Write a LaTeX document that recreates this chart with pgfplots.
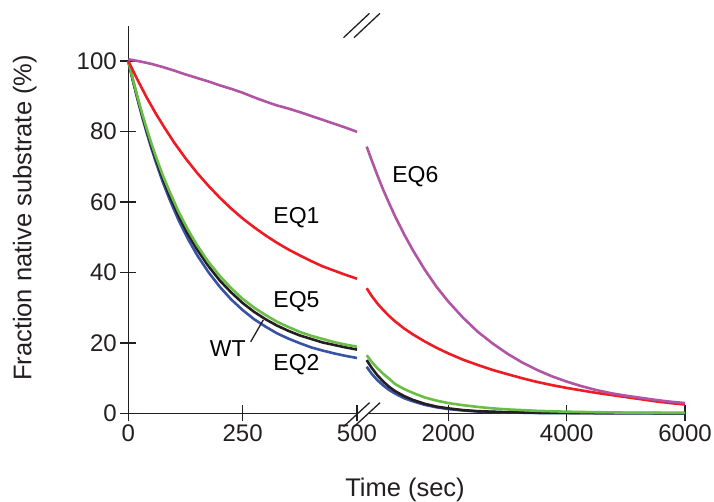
\documentclass[border=0pt]{standalone}
\usepackage{fontspec}
\setmainfont{Liberation Sans}
\usepackage{pgfplots}
\pgfplotsset{compat=1.18}
\definecolor{cEQsix}{RGB}{176,84,164}
\definecolor{cEQone}{RGB}{237,28,36}
\definecolor{cEQfive}{RGB}{106,189,69}
\definecolor{cEQtwo}{RGB}{57,83,164}
\definecolor{cWT}{RGB}{35,31,32}
\pgfplotsset{
  common/.style={
    scale only axis, anchor=south west, clip=false,
    height=387.5pt, ymin=0, ymax=110,
    axis line style={line width=1.5pt, cWT, -},
    every outer x axis line/.append style={-},
    every outer y axis line/.append style={-},
    x axis line style={-}, y axis line style={-},
    tick align=outside, major tick length=16pt,
    tick style={line width=1.5pt, cWT},
    every tick label/.append style={font=\fontsize{24}{24}\selectfont, text=cWT},
    /pgf/number format/assume math mode=true,
    /pgf/number format/1000 sep={},
  },
  dl/.style={line width=2.6pt, line join=round, no markers},
}
\begin{document}
\begin{tikzpicture}
\useasboundingbox (0pt,0pt) rectangle (714pt,502pt);
% ---------- left segment 0-500 s ----------
\begin{axis}[common, at={(128.3pt,88.7pt)}, width=228.7pt,
  xmin=0, xmax=500,
  axis x line=bottom, axis y line=left,
  x axis line style={-}, y axis line style={-},
  xtick={0,250,500}, ytick={0,20,40,60,80,100}]
\addplot[dl, cEQtwo] coordinates {(0,100) (10,94.4) (20,89.2) (30,84.3) (40,79.7) (50,75.4) (60,71.4) (75,65.8) (90,60.8) (110,54.8) (130,49.6) (150,45.0) (175,40.1) (200,35.9) (225,32.3) (250,29.3) (275,26.7) (300,24.6) (325,22.7) (350,21.2) (375,19.9) (400,18.7) (425,17.8) (450,17.0) (475,16.3) (500,15.7)};
\addplot[dl, cWT] coordinates {(0,100) (10,94.6) (20,89.5) (30,84.7) (40,80.3) (50,76.1) (60,72.2) (75,66.8) (90,61.9) (110,56.1) (130,51.0) (150,46.6) (175,41.8) (200,37.7) (225,34.3) (250,31.3) (275,28.8) (300,26.7) (325,24.9) (350,23.4) (375,22.1) (400,21.1) (425,20.1) (450,19.4) (475,18.7) (500,18.1)};
\addplot[dl, cEQfive] coordinates {(0,100) (10,94.8) (20,89.8) (30,85.2) (40,80.9) (50,76.8) (60,73.0) (75,67.7) (90,63.0) (110,57.2) (130,52.2) (150,47.8) (175,43.0) (200,39.0) (225,35.5) (250,32.5) (275,30.0) (300,27.9) (325,26.0) (350,24.5) (375,23.1) (400,22.0) (425,21.1) (450,20.2) (475,19.5) (500,18.9)};
\addplot[dl, cEQone] coordinates {(0,100) (20,94.7) (40,89.7) (60,85.1) (80,80.9) (100,76.9) (125,72.4) (150,68.3) (175,64.6) (200,61.2) (225,58.1) (250,55.3) (275,52.8) (300,50.5) (325,48.4) (350,46.5) (375,44.8) (400,43.2) (425,41.7) (450,40.5) (475,39.3) (500,38.2)};
\addplot[dl, cEQsix] coordinates {(0,100.5) (25,99.9) (50,99.2) (75,98.3) (100,97.3) (125,96.2) (150,95.2) (175,94.2) (200,93.1) (225,92.1) (250,91.0) (275,89.7) (300,88.5) (325,87.4) (350,86.5) (375,85.5) (400,84.4) (425,83.3) (450,82.2) (475,81.1) (500,79.9)};
\node[anchor=base west, inner sep=0pt, font=\fontsize{23}{23}\selectfont] at (axis cs:317,53.9) {EQ1};
\node[anchor=base west, inner sep=0pt, font=\fontsize{23}{23}\selectfont] at (axis cs:317,30.1) {EQ5};
\node[anchor=base west, inner sep=0pt, font=\fontsize{23}{23}\selectfont] at (axis cs:317,12.1) {EQ2};
\node[anchor=base west, inner sep=0pt, font=\fontsize{23}{23}\selectfont] at (axis cs:178,16.1) {WT};
\draw[line width=1.3pt, cWT] (axis cs:267.6,20.3) -- (axis cs:295.1,26.5);
\end{axis}
% ---------- right segment 500-6000 s ----------
\begin{axis}[common, at={(368pt,88.7pt)}, width=317pt,
  xmin=642, xmax=6000,
  axis x line=bottom, hide y axis,
  x axis line style={-},
  xtick={2000,4000,6000}]
\addplot[dl, cEQtwo] coordinates {(620,13.2) (700,11.3) (800,9.4) (900,7.9) (1000,6.6) (1100,5.6) (1250,4.3) (1400,3.4) (1600,2.4) (1800,1.7) (2000,1.2) (2250,0.8) (2500,0.5) (3000,0.25) (3500,0.1) (4000,0.05) (5000,0) (6000,0)};
\addplot[dl, cWT] coordinates {(620,15.1) (700,13.0) (800,10.8) (900,9.0) (1000,7.5) (1100,6.3) (1250,4.9) (1400,3.8) (1600,2.7) (1800,1.9) (2000,1.4) (2250,0.9) (2500,0.6) (3000,0.3) (3500,0.15) (4000,0.1) (5000,0.05) (6000,0)};
\addplot[dl, cEQfive] coordinates {(620,16.5) (700,14.7) (800,12.8) (900,11.2) (1000,9.8) (1100,8.3) (1250,6.9) (1400,5.8) (1600,4.5) (1800,3.6) (2000,2.9) (2250,2.3) (2500,1.8) (2750,1.4) (3000,1.1) (3500,0.7) (4000,0.45) (4500,0.3) (5000,0.2) (5500,0.15) (6000,0.1)};
\addplot[dl, cEQone] coordinates {(620,35.5) (700,33.4) (800,31.2) (900,29.3) (1000,27.6) (1100,26.1) (1250,24.1) (1400,22.4) (1600,20.4) (1800,18.6) (2000,17.0) (2250,15.2) (2500,13.7) (2750,12.3) (3000,11.1) (3250,9.95) (3500,8.9) (3750,8.0) (4000,7.2) (4250,6.5) (4500,5.8) (4750,5.2) (5000,4.6) (5250,4.0) (5500,3.4) (5750,2.9) (6000,2.5)};
\addplot[dl, cEQsix] coordinates {(620,75.7) (700,72.0) (800,67.6) (900,63.4) (1000,59.6) (1100,55.9) (1250,50.9) (1400,46.3) (1600,40.8) (1800,35.9) (2000,31.7) (2250,27.1) (2500,23.1) (2750,19.8) (3000,16.9) (3250,14.4) (3500,12.3) (3750,10.5) (4000,9.0) (4250,7.7) (4500,6.6) (4750,5.7) (5000,5.0) (5250,4.4) (5500,3.8) (5750,3.3) (6000,2.9)};
\node[anchor=base west, inner sep=0pt, font=\fontsize{23}{23}\selectfont] at (axis cs:1050,65.5) {EQ6};
\end{axis}
% ---------- axis break marks ----------
\draw[line width=1.3pt, cWT] (343.5pt,464.3pt) -- (369.5pt,488.7pt);
\draw[line width=1.3pt, cWT] (354pt,464.3pt) -- (380pt,488.7pt);
\draw[line width=1.3pt, cWT] (343.5pt,75.3pt) -- (369.5pt,99.3pt);
\draw[line width=1.3pt, cWT] (354pt,75.3pt) -- (380pt,99.3pt);
% ---------- axis titles ----------
\node[anchor=base, inner sep=0pt, font=\fontsize{25.5}{25.5}\selectfont, text=cWT] at (405pt,5.5pt) {Time (sec)};
\node[anchor=base, inner sep=0pt, rotate=90, font=\fontsize{25.5}{25.5}\selectfont, text=cWT] at (31.3pt,284pt) {Fraction native substrate (\%)};
\end{tikzpicture}
\end{document}
